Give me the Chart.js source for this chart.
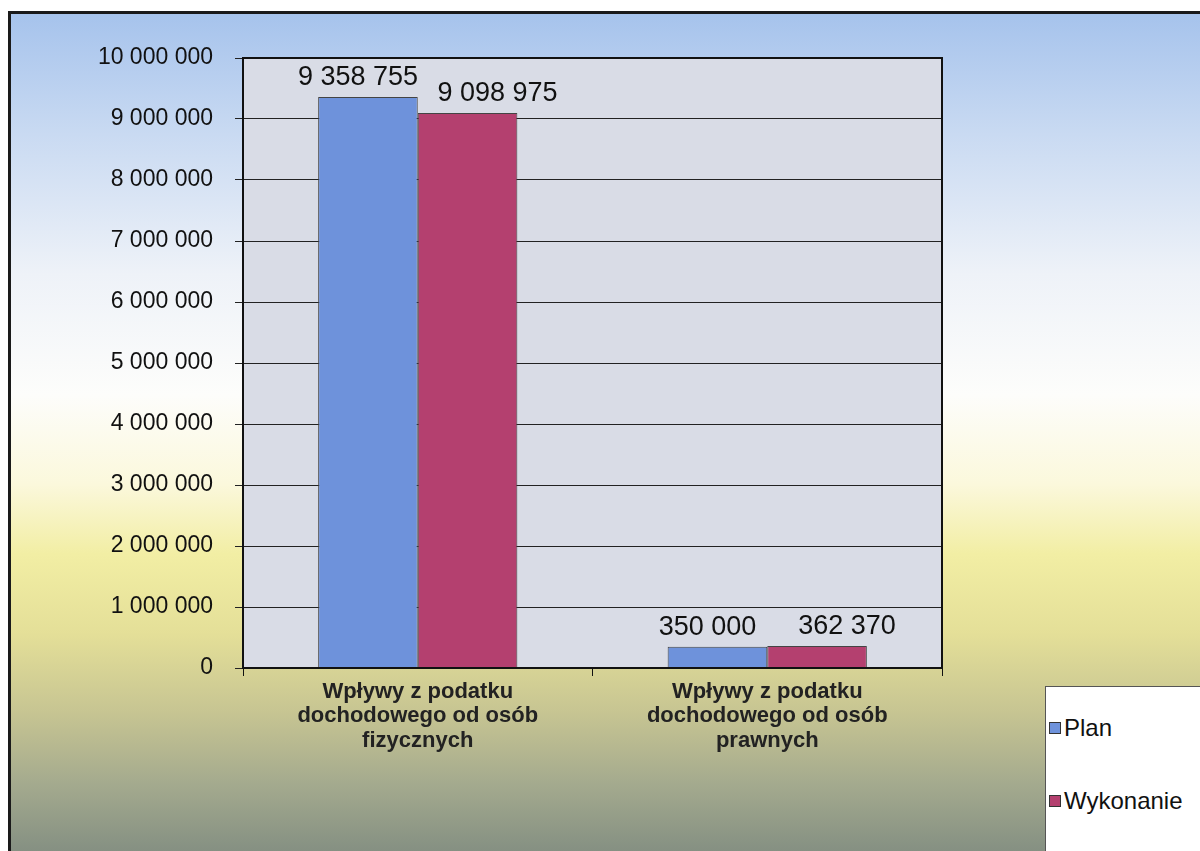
<!DOCTYPE html>
<html>
<head>
<meta charset="utf-8">
<script src="https://cdn.jsdelivr.net/npm/chart.js@4.4.0/dist/chart.umd.min.js"></script>
<style>
html,body{margin:0;padding:0;background:#fff;}
#wrap{position:relative;width:1200px;height:851px;overflow:hidden;background:#fff;}
#frame{position:absolute;left:8px;top:11px;width:1210px;height:860px;border:3px solid #1a1a1a;box-sizing:border-box;
  background:linear-gradient(to bottom,#a6c3ec 0px,#c9daf2 120px,#eef2f8 260px,#fdfdfb 380px,#fbf8dc 470px,#f2eea4 540px,#e4df98 620px,#c6c492 700px,#a4aa8e 770px,#7f8b80 850px);}
#c{position:absolute;left:0;top:0;}
#legend{position:absolute;left:1045px;top:686px;width:170px;height:180px;background:#fff;border:1px solid #555;box-sizing:border-box;
  font-family:Arial,"Liberation Sans",sans-serif;font-size:24px;color:#111;}
.li{position:absolute;left:3px;display:flex;align-items:center;}
.sw{width:10px;height:10px;border:1px solid #333;margin-right:3px;}
</style>
</head>
<body>
<div id="wrap">
<div id="frame"></div>
<canvas id="c" width="1200" height="851"></canvas>
<div id="legend"></div>
</div>
<script>
var CATEGORIES=[['Wpływy z podatku','dochodowego od osób','fizycznych'],['Wpływy z podatku','dochodowego od osób','prawnych']];
var SERIES=['Plan','Wykonanie'];
var PLAN=[9358755,350000];
var WYKONANIE=[9098975,362370];
var Y_TICKS=[0,1000000,2000000,3000000,4000000,5000000,6000000,7000000,8000000,9000000,10000000];
var COLORS=['#6e92db','#b4406f'];
var LABEL_DX=[-10,30];

function fmt(n){return String(n).replace(/\B(?=(\d{3})+(?!\d))/g,' ');}

var FONT='Arial,"Liberation Sans",sans-serif';

// legend (html)
var lg=document.getElementById('legend');
SERIES.forEach(function(s,i){
  lg.innerHTML+='<div class="li" style="top:'+(i===0?27:100)+'px"><div class="sw" style="background:'+COLORS[i]+'"></div>'+s+'</div>';
});

// plot background + frame
var plotBg={
  id:'plotBg',
  beforeDraw:function(ch){
    var a=ch.chartArea,c=ch.ctx;
    c.save();c.fillStyle='#d9dce6';c.fillRect(a.left,a.top,a.right-a.left,a.bottom-a.top);c.restore();
  },
  afterDraw:function(ch){
    var a=ch.chartArea,c=ch.ctx;
    c.save();c.strokeStyle='#111';c.lineWidth=2;
    c.strokeRect(a.left,a.top,a.right-a.left,a.bottom-a.top);c.restore();
  }
};

// value labels above bars
var valueLabels={
  id:'valueLabels',
  afterDatasetsDraw:function(ch){
    var c=ch.ctx;
    c.save();
    c.font='27px '+FONT;c.fillStyle='#111';c.textAlign='center';c.textBaseline='bottom';
    ch.data.datasets.forEach(function(ds,di){
      ch.getDatasetMeta(di).data.forEach(function(bar,i){
        c.fillText(fmt(ds.data[i]),bar.x+LABEL_DX[di],bar.y-6);
      });
    });
    c.restore();
  }
};

new Chart(document.getElementById('c'),{
  type:'bar',
  data:{
    labels:CATEGORIES,
    datasets:[
      {label:SERIES[0],data:PLAN,backgroundColor:COLORS[0],borderColor:'#444',borderWidth:1,categoryPercentage:0.57,barPercentage:1},
      {label:SERIES[1],data:WYKONANIE,backgroundColor:COLORS[1],borderColor:'#444',borderWidth:1,categoryPercentage:0.57,barPercentage:1}
    ]
  },
  options:{
    responsive:false,
    animation:false,
    layout:{padding:{top:58,right:258,bottom:0,left:0}},
    plugins:{legend:{display:false},tooltip:{enabled:false}},
    scales:{
      x:{
        grid:{drawOnChartArea:false,drawTicks:true,tickLength:8,color:'#111',offset:true},
        border:{display:false},
        ticks:{color:'#222',font:{family:FONT,size:22,weight:'bold',lineHeight:1.1},padding:4,maxRotation:0,autoSkip:false},
        afterFit:function(s){s.height=183;}
      },
      y:{
        min:0,max:10000000,
        afterBuildTicks:function(s){s.ticks=Y_TICKS.map(function(v){return {value:v};});},
        grid:{color:'#222',lineWidth:1,tickLength:8},
        border:{display:true,color:'#111',width:2},
        ticks:{color:'#111',font:{family:FONT,size:23},padding:22,callback:function(v){return fmt(v);}},
        afterFit:function(s){s.width=243;}
      }
    }
  },
  plugins:[plotBg,valueLabels]
});
</script>
</body>
</html>
